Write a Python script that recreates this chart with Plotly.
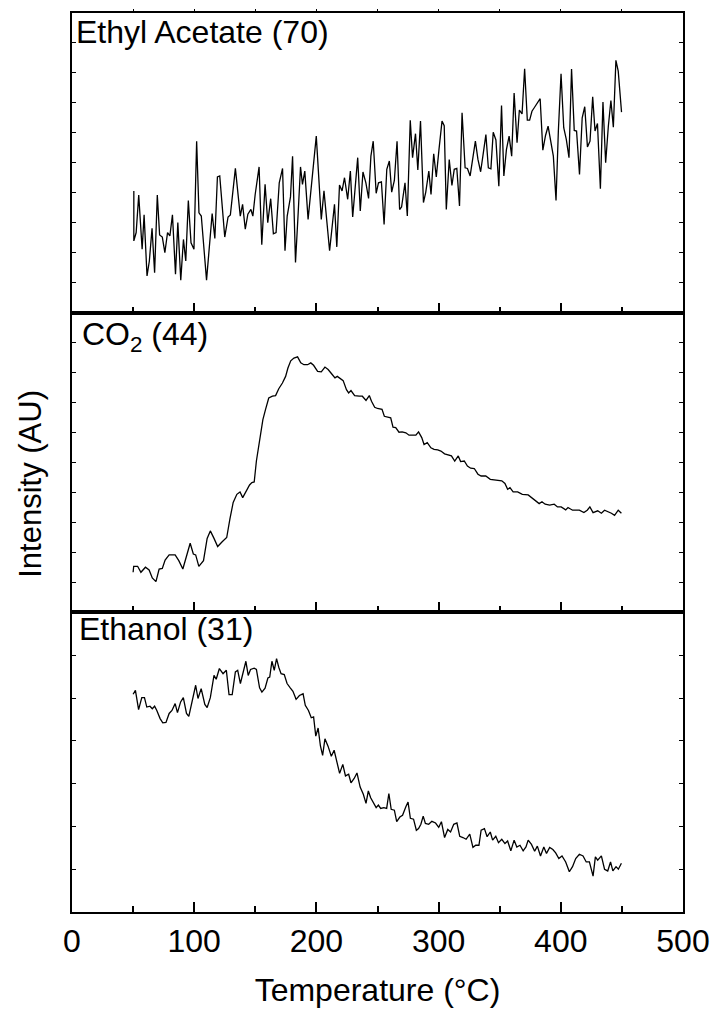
import plotly.graph_objects as go

# Mass-spec signals (arbitrary units) versus temperature, one panel per fragment
ethyl_acetate_70 = [
    (50.6, 4.06), (50.6, 2.39), (52.5, 2.67), (54.6, 3.92), (57.4, 2.11), (59.0, 3.26),
    (61.4, 1.22), (63.3, 1.72), (65.5, 2.81), (67.6, 1.33), (69.8, 3.92), (71.7, 2.59),
    (73.9, 2.52), (76.0, 2.00), (78.2, 2.67), (80.1, 2.56), (82.2, 3.26), (84.7, 1.28),
    (86.6, 3.00), (89.0, 1.08), (91.2, 2.44), (93.1, 1.72), (95.2, 3.74), (97.4, 2.33),
    (99.8, 2.11), (102.0, 5.72), (103.9, 3.33), (105.8, 3.22), (110.1, 1.08), (114.7, 3.30),
    (116.9, 2.47), (119.0, 4.53), (120.9, 4.56), (125.0, 2.52), (127.7, 3.19), (129.6, 3.26),
    (133.7, 4.81), (137.7, 3.22), (139.6, 3.61), (141.8, 2.78), (143.9, 3.28), (146.4, 3.44),
    (148.0, 3.22), (149.9, 3.94), (153.1, 4.86), (155.3, 2.26), (158.0, 4.28), (160.2, 3.00),
    (162.6, 3.80), (164.8, 2.63), (167.0, 2.67), (169.6, 4.33), (172.3, 4.81), (174.3, 2.06),
    (176.1, 3.22), (178.8, 3.86), (180.5, 5.22), (182.9, 1.67), (185.1, 3.33), (187.0, 4.86),
    (188.6, 4.28), (190.5, 4.72), (193.2, 3.11), (199.9, 5.89), (204.0, 3.11), (206.2, 4.06),
    (210.8, 2.06), (214.8, 3.61), (216.7, 2.19), (218.9, 4.26), (221.0, 4.06), (223.0, 4.50),
    (225.6, 3.78), (227.8, 4.72), (229.7, 3.19), (233.8, 5.17), (235.9, 3.39), (238.1, 4.69),
    (240.5, 4.33), (242.7, 3.81), (244.6, 5.22), (246.5, 5.72), (248.9, 3.98), (250.8, 4.33),
    (253.2, 4.36), (255.4, 2.94), (257.6, 4.78), (259.7, 5.06), (261.6, 4.02), (263.8, 4.41),
    (266.0, 5.72), (268.1, 3.44), (269.7, 3.52), (272.5, 4.33), (274.4, 3.22), (276.8, 6.42),
    (278.7, 5.17), (281.1, 5.97), (283.0, 4.76), (285.2, 6.39), (287.6, 3.67), (289.5, 4.02),
    (292.0, 4.72), (293.8, 3.94), (296.0, 5.30), (298.1, 4.53), (300.3, 5.44), (302.8, 6.39),
    (304.6, 6.24), (306.3, 3.44), (308.7, 5.11), (310.9, 4.24), (312.8, 4.78), (314.9, 4.81),
    (317.1, 3.56), (319.2, 6.67), (321.7, 4.83), (323.6, 4.81), (325.8, 4.56), (327.9, 5.11),
    (330.1, 5.72), (332.2, 5.11), (334.4, 4.70), (336.6, 5.33), (338.7, 5.94), (340.7, 4.83),
    (342.8, 4.80), (344.7, 6.02), (346.9, 5.76), (349.3, 4.22), (351.5, 6.91), (353.4, 4.56),
    (355.5, 5.44), (357.7, 5.89), (359.8, 5.22), (361.8, 7.33), (364.2, 5.67), (366.1, 6.76),
    (368.3, 6.63), (370.4, 8.14), (372.6, 6.42), (374.5, 6.42), (376.4, 6.72), (378.8, 6.87),
    (381.0, 7.00), (383.1, 7.14), (385.3, 5.42), (387.5, 5.91), (389.6, 6.22), (391.8, 5.67),
    (393.9, 5.22), (396.1, 3.74), (398.0, 6.06), (400.2, 7.97), (402.4, 6.17), (404.5, 5.78),
    (406.7, 5.17), (408.8, 8.13), (411.0, 6.08), (412.9, 6.06), (415.3, 4.61), (417.5, 6.50),
    (419.6, 6.87), (421.8, 5.53), (423.9, 5.72), (426.1, 7.20), (428.0, 6.06), (430.0, 6.31),
    (432.4, 4.13), (434.5, 7.03), (436.7, 5.00), (438.9, 6.22), (441.0, 7.08), (443.0, 6.19),
    (445.1, 8.42), (447.0, 8.06), (449.7, 6.69),
]

co2_44 = [
    (50.0, 1.34), (50.5, 1.54), (53.7, 1.54), (56.4, 1.34), (60.1, 1.51), (63.1, 1.42),
    (65.7, 1.15), (68.7, 1.03), (71.3, 1.45), (73.9, 1.47), (76.2, 1.75), (79.5, 1.92),
    (84.4, 1.92), (87.4, 1.73), (90.7, 1.45), (93.7, 1.89), (96.7, 2.31), (99.3, 1.95),
    (101.2, 1.92), (103.8, 1.54), (107.6, 1.73), (110.6, 2.47), (113.2, 2.72), (116.2, 2.47),
    (119.2, 2.20), (122.9, 2.36), (126.6, 2.50), (129.2, 3.11), (131.9, 3.67), (134.9, 3.94),
    (137.5, 4.02), (139.7, 3.83), (142.3, 4.05), (145.3, 4.25), (147.2, 4.33), (149.1, 4.35),
    (150.9, 5.05), (153.5, 5.71), (156.2, 6.43), (158.4, 6.77), (161.0, 7.15), (164.0, 7.21),
    (166.6, 7.23), (169.2, 7.46), (172.2, 7.65), (174.8, 7.87), (176.7, 8.15), (179.0, 8.39),
    (181.6, 8.48), (184.6, 8.52), (187.2, 8.32), (189.8, 8.26), (192.8, 8.26), (195.4, 8.32),
    (197.7, 8.24), (201.0, 8.04), (204.0, 8.02), (207.0, 8.18), (209.6, 8.10), (212.6, 7.95),
    (215.2, 7.82), (217.1, 7.87), (219.7, 7.80), (221.9, 7.73), (224.6, 7.43), (226.4, 7.32),
    (228.3, 7.40), (231.3, 7.23), (235.0, 7.21), (237.6, 7.21), (240.6, 7.07), (243.3, 7.23),
    (245.1, 7.04), (247.7, 6.84), (250.0, 6.80), (253.7, 6.77), (255.6, 6.54), (258.2, 6.51),
    (260.8, 6.49), (262.7, 6.18), (264.9, 6.16), (267.6, 6.01), (270.2, 6.02), (273.2, 5.99),
    (275.8, 5.91), (278.8, 5.91), (281.4, 5.91), (283.6, 6.02), (286.2, 5.83), (288.1, 5.60),
    (290.7, 5.66), (293.7, 5.49), (296.3, 5.44), (299.3, 5.42), (301.9, 5.38), (304.9, 5.29),
    (307.9, 5.25), (310.5, 5.22), (313.2, 5.05), (316.1, 5.22), (318.0, 5.03), (321.0, 5.05),
    (323.6, 4.88), (326.2, 4.81), (329.2, 4.80), (332.2, 4.61), (334.8, 4.55), (338.6, 4.55),
    (342.3, 4.44), (347.9, 4.42), (351.7, 4.39), (354.3, 4.30), (356.5, 4.11), (358.4, 4.16),
    (361.0, 4.02), (364.7, 4.02), (368.5, 3.94), (373.3, 3.92), (376.0, 3.83), (379.7, 3.72),
    (382.3, 3.63), (384.6, 3.69), (387.2, 3.61), (390.9, 3.58), (394.6, 3.61), (397.3, 3.52),
    (400.3, 3.52), (404.0, 3.42), (405.9, 3.50), (409.6, 3.41), (415.2, 3.41), (418.9, 3.33),
    (421.6, 3.41), (423.8, 3.52), (426.4, 3.33), (430.2, 3.39), (433.2, 3.31), (435.8, 3.41),
    (438.8, 3.37), (441.4, 3.31), (444.0, 3.24), (447.0, 3.41), (449.6, 3.31),
]

ethanol_31 = [
    (50.0, 5.09), (51.9, 5.18), (54.5, 4.73), (57.1, 5.01), (59.3, 5.01), (61.2, 4.79),
    (63.8, 4.81), (65.7, 4.75), (67.6, 4.81), (69.4, 4.71), (72.1, 4.52), (74.3, 4.42),
    (76.9, 4.43), (79.5, 4.64), (81.8, 4.71), (84.4, 4.87), (86.3, 4.66), (88.9, 4.91),
    (91.1, 5.01), (93.7, 4.64), (95.6, 4.57), (98.2, 4.95), (101.2, 5.30), (103.1, 4.99),
    (105.7, 5.22), (108.7, 4.85), (110.6, 4.78), (113.2, 5.01), (116.2, 5.53), (118.0, 5.44),
    (120.6, 5.69), (123.6, 5.57), (126.3, 5.65), (128.5, 5.08), (131.1, 5.08), (133.7, 5.61),
    (135.6, 5.65), (137.8, 5.34), (140.5, 5.67), (142.3, 5.86), (144.2, 5.53), (146.1, 5.67),
    (149.1, 5.70), (150.9, 5.67), (153.5, 5.24), (155.4, 5.14), (158.0, 5.23), (160.3, 5.47),
    (161.8, 5.49), (163.6, 5.86), (165.5, 5.65), (167.4, 5.92), (169.2, 5.72), (171.1, 5.57),
    (173.7, 5.55), (176.0, 5.34), (178.6, 5.24), (180.8, 5.16), (183.4, 4.97), (186.1, 5.06),
    (189.1, 5.10), (190.9, 4.83), (193.5, 4.71), (195.8, 4.54), (197.7, 4.56), (199.5, 4.11),
    (201.4, 4.30), (203.3, 3.88), (205.1, 3.66), (207.0, 4.05), (209.6, 3.87), (212.2, 3.64),
    (214.5, 3.78), (217.1, 3.49), (219.0, 3.24), (221.6, 3.45), (223.8, 3.18), (226.4, 3.22),
    (228.3, 3.02), (230.9, 3.12), (233.2, 3.25), (235.8, 2.92), (238.4, 2.75), (240.6, 2.54),
    (242.5, 2.83), (244.4, 2.67), (246.2, 2.57), (248.9, 2.44), (250.7, 2.50), (252.6, 2.42),
    (255.2, 2.44), (257.5, 2.42), (259.3, 2.77), (261.2, 2.40), (263.8, 2.38), (265.7, 2.11),
    (268.3, 2.22), (270.5, 2.26), (273.2, 2.46), (275.0, 2.57), (276.9, 2.19), (279.5, 2.17),
    (281.8, 1.91), (283.6, 1.95), (285.5, 2.05), (287.4, 2.24), (289.2, 2.07), (291.9, 2.05),
    (294.5, 2.12), (297.5, 2.08), (300.1, 1.98), (302.3, 2.11), (304.9, 1.74), (307.5, 1.93),
    (309.8, 1.87), (312.4, 2.05), (315.0, 2.08), (317.3, 1.77), (319.9, 1.74), (322.5, 1.70),
    (325.5, 1.82), (328.1, 1.51), (330.4, 1.56), (333.0, 1.56), (334.8, 1.91), (337.5, 1.95),
    (339.7, 1.76), (342.3, 1.87), (344.2, 1.68), (346.8, 1.77), (349.0, 1.62), (351.7, 1.70),
    (354.3, 1.60), (356.5, 1.66), (359.1, 1.43), (361.8, 1.68), (364.0, 1.52), (366.6, 1.56),
    (369.2, 1.43), (371.5, 1.52), (373.3, 1.68), (376.0, 1.58), (378.6, 1.42), (380.8, 1.54),
    (383.4, 1.31), (386.1, 1.52), (388.3, 1.37), (390.9, 1.51), (393.5, 1.46), (395.8, 1.38),
    (398.4, 1.25), (401.0, 1.31), (404.0, 1.17), (407.0, 0.94), (409.6, 1.06), (412.2, 1.25),
    (415.2, 1.35), (418.2, 1.31), (420.8, 1.17), (423.4, 1.17), (426.4, 0.84), (428.3, 1.29),
    (430.2, 1.21), (433.2, 1.31), (435.8, 1.00), (438.4, 0.96), (440.7, 1.17), (442.6, 0.96),
    (445.2, 1.06), (447.1, 1.00), (449.6, 1.14),
]

panel_labels = ["Ethyl Acetate (70)", "CO<sub>2</sub> (44)", "Ethanol (31)"]
x_ticks = [0, 100, 200, 300, 400, 500]
top_ticks = [50, 100, 150, 200, 250, 300, 350, 400, 450]
x_title = "Temperature (°C)"
y_title = "Intensity (AU)"

FONT = "Liberation Sans, Arial, sans-serif"
W, H = 720, 1012
LEFT, RIGHT, TOP, BOTTOM = 72, 688, 10, 912
SPLIT_1, SPLIT_2 = 310.5, 611.5


def fx(px):
    return (px - LEFT) / (RIGHT - LEFT)


def fy(py):
    return (BOTTOM - py) / (BOTTOM - TOP)


fig = go.Figure()

# bottom panel -> x/y, middle -> x2/y2, top -> x3/y3
series = [(ethanol_31, "x", "y"), (co2_44, "x2", "y2"), (ethyl_acetate_70, "x3", "y3")]
for data, xa, ya in series:
    temps, vals = zip(*data)
    fig.add_trace(go.Scatter(
        x=list(temps), y=list(vals), mode="lines", xaxis=xa, yaxis=ya,
        line=dict(color="black", width=1.3), showlegend=False, hoverinfo="skip",
    ))

x_common = dict(
    range=[0, 500], tickmode="array", tickvals=x_ticks,
    ticks="inside", ticklen=10, tickwidth=1.5, tickcolor="black",
    showline=True, linecolor="black", linewidth=2, mirror=True,
    showgrid=False, zeroline=False,
    minor=dict(dtick=50, tick0=0, ticks="inside", ticklen=6, tickwidth=1.5,
               tickcolor="black", showgrid=False),
)
y_common = dict(
    ticks="inside", ticklen=4, tickwidth=1.2, tickcolor="black", dtick=1, tick0=0,
    showline=True, linecolor="black", linewidth=2, mirror="ticks",
    showgrid=False, zeroline=False, showticklabels=False,
)

fig.update_layout(
    width=W, height=H,
    margin=dict(l=LEFT, r=W - RIGHT, t=TOP, b=H - BOTTOM, pad=0),
    paper_bgcolor="white", plot_bgcolor="white",
    font=dict(family=FONT, color="black", size=32),
    xaxis=dict(**x_common, anchor="y", showticklabels=True,
               tickfont=dict(size=32, family=FONT, color="black"),
               title=dict(text=x_title, font=dict(size=32, family=FONT, color="black"),
                          standoff=20)),
    xaxis2=dict(**x_common, anchor="y2", matches="x", showticklabels=False),
    xaxis3=dict(**x_common, anchor="y3", matches="x", showticklabels=False),
    # short outward marks along the top edge of the upper frame
    xaxis4=dict(range=[0, 500], overlaying="x3", anchor="y3", side="top",
                tickmode="array", tickvals=top_ticks, ticks="outside", ticklen=3,
                tickwidth=1, tickcolor="black", showticklabels=False,
                showline=False, showgrid=False, zeroline=False),
    yaxis=dict(**y_common, range=[0, 7], domain=[0, fy(SPLIT_2)], anchor="x"),
    yaxis2=dict(**y_common, range=[0, 10], domain=[fy(SPLIT_2), fy(SPLIT_1)], anchor="x2"),
    yaxis3=dict(**y_common, range=[0, 10], domain=[fy(SPLIT_1), 1], anchor="x3"),
)

# an invisible trace keeps the top-edge axis drawn
fig.add_trace(go.Scatter(x=[0], y=[0], xaxis="x4", yaxis="y3", mode="markers",
                         marker=dict(opacity=0), showlegend=False, hoverinfo="skip"))

# panel names in the upper-left corner of each frame
label_pos = [(75, 10), (81, 313), (78, 609)]
for text, (px, py) in zip(panel_labels, label_pos):
    fig.add_annotation(
        text=text, x=fx(px), y=fy(py), xref="paper", yref="paper",
        xanchor="left", yanchor="top", showarrow=False, borderpad=0,
        font=dict(size=32, family=FONT, color="black"),
    )

# shared vertical axis title
fig.add_annotation(
    text=y_title, x=fx(30), y=fy(482), xref="paper", yref="paper",
    xanchor="center", yanchor="middle", textangle=-90, showarrow=False,
    font=dict(size=31, family=FONT, color="black"),
)

fig.write_html("out.html")
